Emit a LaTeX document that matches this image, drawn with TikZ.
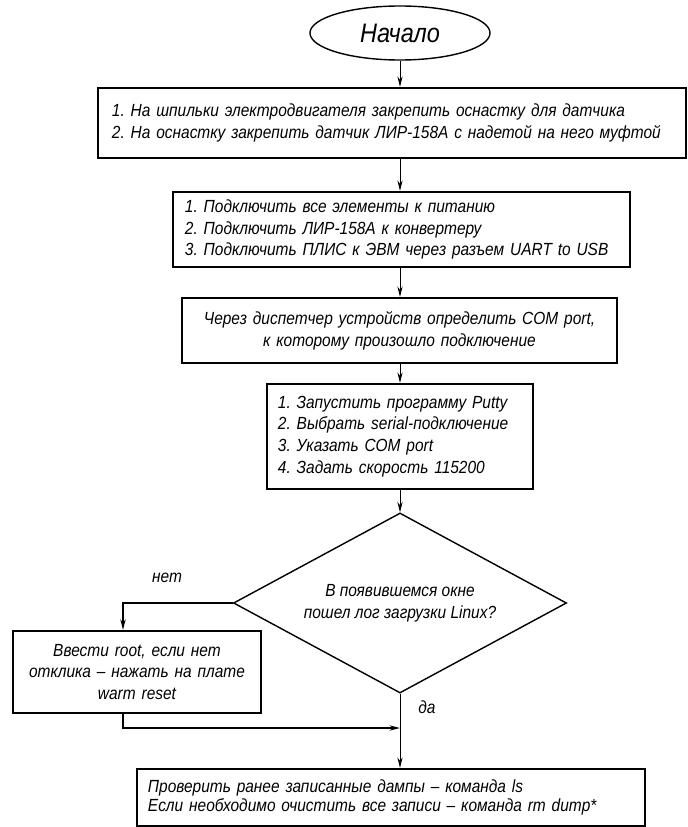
\documentclass[tikz,border=0pt]{standalone}
\usepackage{fontspec}
\setmainfont{Liberation Sans}[FakeStretch=0.88]
\usetikzlibrary{shapes.geometric,arrows.meta}
\frenchspacing
\begin{document}
\begin{tikzpicture}[x=0.025cm,y=-0.025cm,
  txt/.style={font=\itshape\fontsize{12.5}{15.5}\selectfont},
  actbox/.style={txt,draw,line width=1.6pt,inner sep=0pt},
  arr/.style={-{Stealth[length=2.6mm,width=1.3mm]},line width=0.7pt},
  thickarr/.style={arr,line width=1.4pt}]
\useasboundingbox (0,0) rectangle (687,827);
\node[draw,ellipse,line width=1pt,minimum width=4.5cm,minimum height=1.35cm,inner sep=0pt,font=\itshape\fontsize{19}{22}\selectfont] (start) at (400,33) {Начало};
\node[actbox,minimum width=14.7cm,minimum height=1.75cm,text width=14cm,align=left] (mount) at (392,123)
  {1. На шпильки электродвигателя закрепить оснастку для датчика\\
   2. На оснастку закрепить датчик ЛИР-158А с надетой на него муфтой};
\node[actbox,minimum width=11.425cm,minimum height=1.875cm,text width=10.825cm,align=left] (connect) at (401.5,229.5)
  {1. Подключить все элементы к питанию\\
   2. Подключить ЛИР-158А к конвертеру\\
   3. Подключить ПЛИС к ЭВМ через разъем UART to USB};
\node[actbox,minimum width=10.875cm,minimum height=1.625cm,text width=10.6cm,align=center] (comport) at (399.5,330.5)
  {Через диспетчер устройств определить COM port,\\
   к которому произошло подключение};
\node[actbox,minimum width=6.65cm,minimum height=2.625cm,text width=6.1cm,align=left] (putty) at (400,436.5)
  {1. Запустить программу Putty\\
   2. Выбрать serial-подключение\\
   3. Указать COM port\\
   4. Задать скорость 115200};
\node[txt,draw,diamond,aspect=1.85,line width=1pt,minimum width=8.325cm,minimum height=4.5cm,inner sep=0pt,align=center] (linux) at (400,603)
  {В появившемся окне\\пошел лог загрузки Linux?};
\node[actbox,minimum width=6.2cm,minimum height=2.05cm,text width=5.9cm,align=center] (reset) at (137,672)
  {Ввести root, если нет\\отклика – нажать на плате\\warm reset};
\node[actbox,minimum width=12.7cm,minimum height=1.425cm,text width=12.15cm,align=left,font=\itshape\fontsize{12.5}{13.5}\selectfont] (dumps) at (391,797.5)
  {Проверить ранее записанные дампы – команда ls\\
   Если необходимо очистить все записи – команда rm dump*};
\node[txt] (nolbl) at (167,578) {нет};
\node[txt] (yeslbl) at (427,707) {да};
\coordinate (join) at (400,728);
% main column
\draw[arr] (start.south) -- (start |- mount.north);
\draw[arr] (start |- mount.south) -- (start |- connect.north);
\draw[arr] (start |- connect.south) -- (start |- comport.north);
\draw[arr] (start |- comport.south) -- (start |- putty.north);
\draw[arr] (putty.south) -- (linux.north);
% branches
\draw[thickarr] (linux.west) -| ([xshift=-0.35cm]reset.north);
\draw[thickarr] ([xshift=-0.35cm]reset.south) |- (join);
\draw[arr] (linux.south) -- (linux.south |- dumps.north);
\end{tikzpicture}
\end{document}
